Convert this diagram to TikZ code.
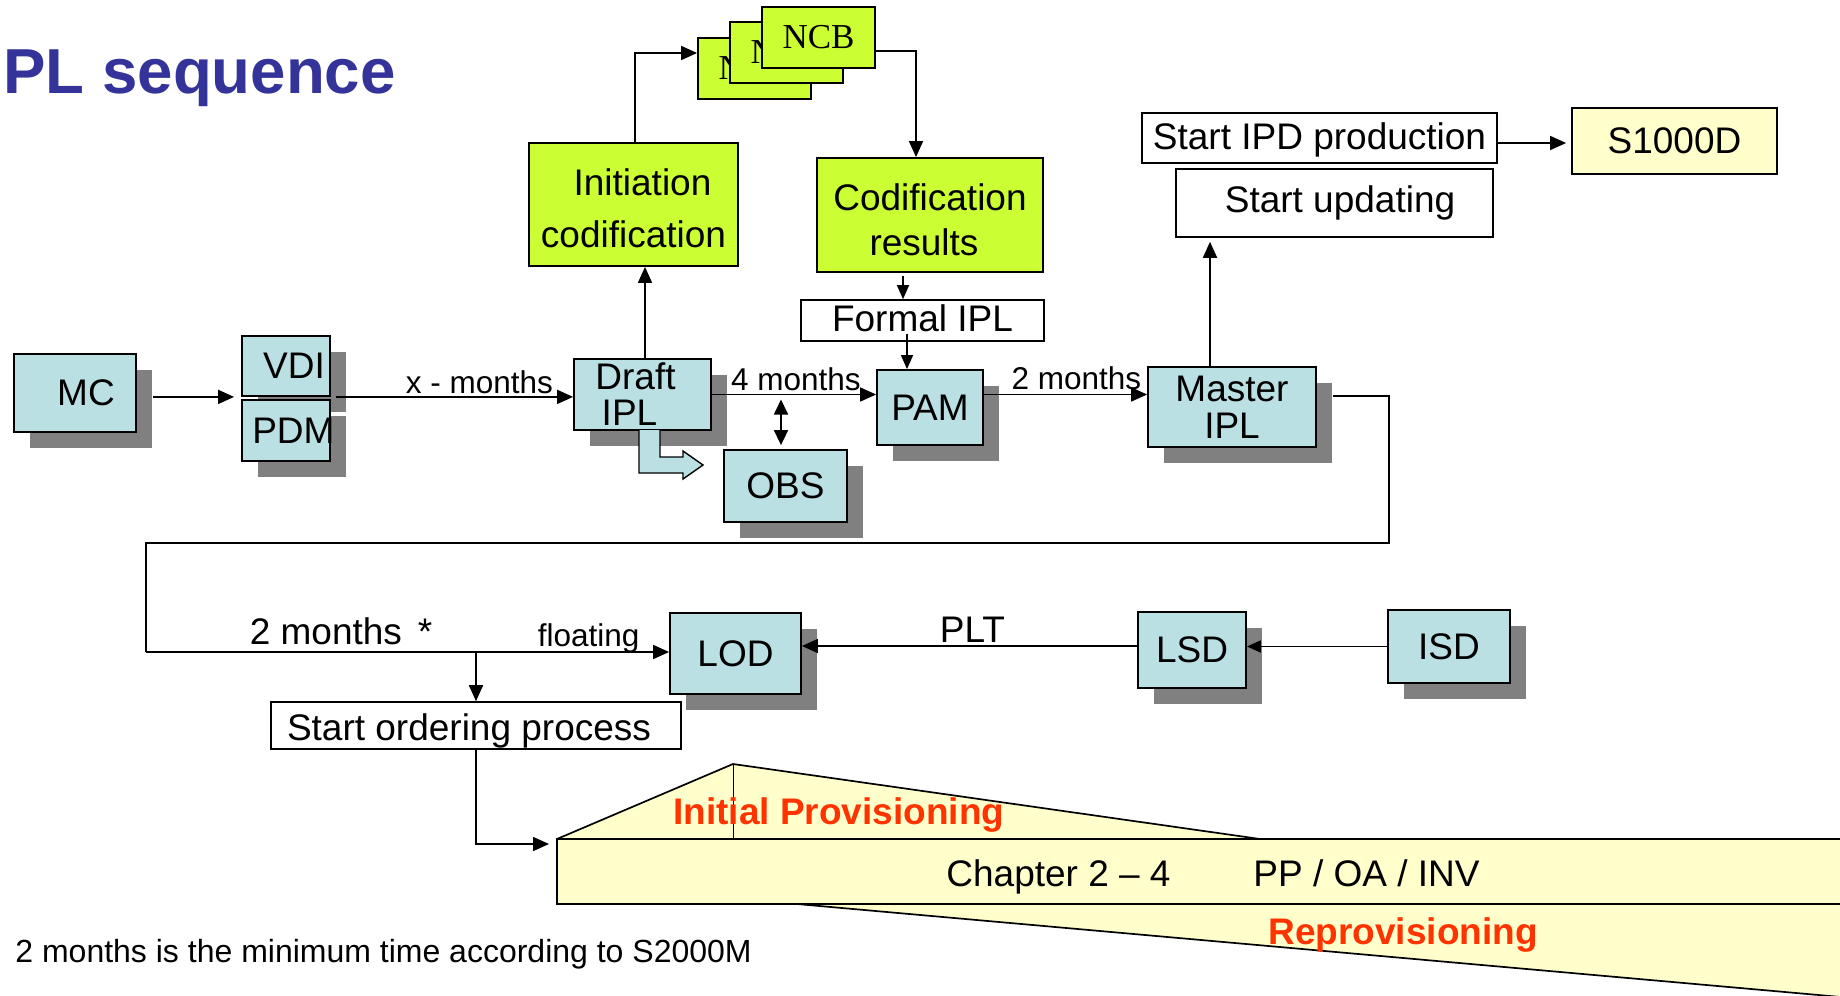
\documentclass[tikz,border=0pt]{standalone}
\usepackage{fontspec}
\setmainfont{Liberation Sans}
\newfontfamily\ncbfont{Liberation Serif}
\usetikzlibrary{arrows.meta,shadows,calc}
\definecolor{boxblue}{RGB}{187,224,227}
\definecolor{shadowgray}{RGB}{128,128,128}
\definecolor{limegreen}{RGB}{204,255,51}
\definecolor{paleyellow}{RGB}{255,255,204}
\definecolor{titleblue}{RGB}{51,51,153}
\definecolor{provred}{RGB}{255,51,0}
\begin{document}
\begin{tikzpicture}[x=0.5pt,y=-0.5pt,
  mybox/.style={draw=black, line width=0.9pt, inner sep=0pt, align=center, font=\fontsize{18.5}{18}\selectfont},
  bluebox/.style={mybox, fill=boxblue, general shadow={fill=shadowgray, shadow xshift=8pt, shadow yshift=-8pt}},
  limebox/.style={mybox, fill=limegreen},
  whitebox/.style={mybox, fill=white, line width=0.8pt},
  ncbbox/.style={mybox, fill=limegreen, font=\ncbfont\fontsize{17.5}{20}\selectfont, minimum width=56.5pt, minimum height=30.5pt},
  conn/.style={line width=0.85pt, -{Triangle[length=8pt,width=7pt]}},
  thinconn/.style={line width=0.7pt, -{Triangle[length=7pt,width=6pt]}},
  dbl/.style={line width=0.85pt, {Triangle[length=7.5pt,width=7pt]}-{Triangle[length=7.5pt,width=7pt]}},
  wire/.style={line width=0.8pt},
  bandline/.style={line width=0.85pt},
  lbl/.style={font=\fontsize{15.75}{18}\selectfont, anchor=base, inner sep=0pt},
  lblbig/.style={font=\fontsize{18.5}{20}\selectfont, anchor=base, inner sep=0pt},
]
\useasboundingbox (0,0) rectangle (1840,995);

% title
\node[anchor=base west, inner sep=0pt, font=\bfseries\fontsize{31.8}{36}\selectfont, text=titleblue] (title) at (3,94) {PL sequence};

% band
\coordinate (bandNW) at (557,839);
\begin{scope}
\clip (0,0) rectangle (1840,995);
\fill[paleyellow] (557,839) -- (733,764) -- (1260,839) -- cycle;
\fill[paleyellow] (557,839) rectangle (1850,904);
\fill[paleyellow] (797,904) -- (1850,997.8) -- (1850,904) -- cycle;
\draw[bandline] (557,839) -- (733,764) -- (1260,839);
\draw[line width=0.5pt] (733,764) -- (733,839);
\draw[bandline] (1850,839) -- (557,839) -- (557,904) -- (1850,904);
\draw[bandline] (797,904) -- (1850,997.8);
\end{scope}
\node[anchor=base west, inner sep=0pt, font=\bfseries\fontsize{18.5}{20}\selectfont, text=provred] (ip) at (673,824) {Initial Provisioning};
\node[anchor=base west, inner sep=0pt, font=\bfseries\fontsize{18.5}{20}\selectfont, text=provred] (rp) at (1268,944) {Reprovisioning};
\node[anchor=base west, inner sep=0pt, font=\fontsize{18.5}{20}\selectfont] (ch) at (946,886) {Chapter 2 -- 4};
\node[anchor=base west, inner sep=0pt, font=\fontsize{18.5}{20}\selectfont] (pp) at (1253,886) {PP / OA / INV};

% footnote
\node[anchor=base west, inner sep=0pt, font=\fontsize{16}{18}\selectfont] (note) at (15,962) {2 months is the minimum time according to S2000M};

% boxes
\node[bluebox, minimum width=61pt, minimum height=39pt] (MC) at (75,393) {\hspace*{11pt}MC};
\node[bluebox, minimum width=44pt, minimum height=30pt] (VDI) at (286,366) {\hspace*{8pt}VDI};
\node[bluebox, minimum width=44pt, minimum height=30.5pt] (PDM) at (286,430.5) {\makebox[0pt]{\hspace*{7.4pt}PDM}};
\node[bluebox, minimum width=68.5pt, minimum height=35.5pt, font=\fontsize{18.5}{18}\selectfont] (Draft) at (642.5,394.5) {Draft\hspace*{7pt}\\IPL\hspace*{13pt}};
\node[limebox, minimum width=104.5pt, minimum height=61.5pt, font=\fontsize{18.5}{26}\selectfont] (Init) at (633.5,204.5) {\rule{0pt}{17.5pt}\hspace*{9pt}Initiation\\codification};
\node[limebox, minimum width=113pt, minimum height=57pt, font=\fontsize{18.5}{22.5}\selectfont] (Cod) at (930,215) {\rule{0pt}{18.5pt}Codification\\results\hspace*{6pt}};
\node[whitebox, minimum width=121.5pt, minimum height=20.5pt] (Formal) at (922.5,320.5) {\raisebox{1pt}[\height][\depth]{Formal IPL}};
\node[bluebox, minimum width=53pt, minimum height=37.5pt] (PAM) at (930,407.5) {PAM};
\node[bluebox, minimum width=61.5pt, minimum height=36pt] (OBS) at (785.5,486) {OBS};
\node[bluebox, minimum width=84pt, minimum height=40pt, font=\fontsize{18.5}{18.5}\selectfont] (Master) at (1232,407) {Master\\IPL};
\node[whitebox, minimum width=158.5pt, minimum height=34pt] (Upd) at (1334.5,203) {\hspace*{5.5pt}Start updating};
\node[whitebox, minimum width=177.5pt, minimum height=25pt] (IPD) at (1319.5,138) {\raisebox{-1.2pt}[\height][\depth]{Start IPD production}};
\node[mybox, fill=paleyellow, minimum width=102.5pt, minimum height=33pt] (S1000D) at (1674.5,141) {S1000D};
\node[ncbbox] (ncb1) at (754.5,68.5) {NCB};
\node[ncbbox] (ncb2) at (786.5,52.5) {NCB};
\node[ncbbox] (ncb3) at (818.5,37.5) {NCB};
\node[whitebox, minimum width=205pt, minimum height=23.5pt] (Order) at (476,725.5) {\raisebox{-2.5pt}[\height][\depth]{Start ordering process}\hspace*{7pt}};
\node[bluebox, minimum width=65.5pt, minimum height=40.5pt] (LOD) at (735.5,653.5) {LOD};
\node[bluebox, minimum width=54pt, minimum height=38pt] (LSD) at (1192,650) {LSD};
\node[bluebox, minimum width=61pt, minimum height=36.5pt] (ISD) at (1449,646.5) {ISD};

% block arrow from Draft IPL
\draw[line width=0.7pt, fill=boxblue] (639,430) -- (639,473) -- (683,473) -- (683,479) -- (703,465) -- (683,451) -- (683,457) -- (660,457) -- (660,430);

% connectors
\draw[conn] ([xshift=8pt]MC.east |- VDI.south) -- ([xshift=-3.5pt]VDI.south west);
\draw[conn] ([xshift=2.5pt]VDI.south east) -- (VDI.south -| Draft.west) node[lbl, pos=0.605, yshift=1.5pt] {x - months};
\draw[conn] (Draft.east) -- (Draft.east -| PAM.west) node[lbl, pos=0.512, yshift=2pt] {4 months};
\draw[conn] (PAM.east |- Draft.east) -- (Draft.east -| Master.west) node[lbl, pos=0.567, yshift=2.5pt] {2 months};
\draw[dbl] ([xshift=-2.25pt,yshift=2pt]OBS.north) -- ([xshift=-2.25pt,yshift=-2.5pt]OBS.north |- Draft.east);
\draw[conn] ([xshift=1.25pt]Draft.north) -- ([xshift=1.25pt]Draft.north |- Init.south);
\draw[conn] ([xshift=0.75pt]Init.north) |- ([yshift=7.75pt]ncb1.west);
\draw[conn] ([yshift=-6.75pt]ncb3.east) -| ([xshift=-7pt]Cod.north);
\draw[thinconn] ([xshift=-13.5pt,yshift=-1.5pt]Cod.south) -- ([xshift=-13.5pt]Cod.south |- Formal.north);
\draw[thinconn] ([xshift=-7.75pt,yshift=4pt]Formal.south) -- ([xshift=-7.75pt]Formal.south |- PAM.north);
\draw[conn, shorten >=2pt] ([xshift=-11pt]Master.north) -- ([xshift=-11pt]Master.north |- Upd.south);
\draw[conn, shorten >=2.5pt] ([yshift=-2.5pt]IPD.east) -- ([yshift=-1pt]S1000D.west);

\coordinate (loopR) at (1389,543);
\coordinate (loopL) at (146,543);
\coordinate (loopB) at (146,652);
\draw[wire] ([xshift=8pt,yshift=5.5pt]Master.east) -| (loopR) -- (loopL) -- (loopB);
\draw[conn] (loopB) -- ([yshift=0.75pt]LOD.west)
  node[lblbig, pos=0.373, yshift=4pt] {2 months\hspace{8pt}*}
  node[lbl, pos=0.846, yshift=3pt] {floating};
\draw[conn] (loopB -| Order.north) -- (Order.north);
\draw[conn] (Order.south) |- ([xshift=-4pt,yshift=-2.5pt]bandNW);
\draw[conn] ([yshift=2pt]LSD.west) -- ([yshift=3.75pt]LOD.east) node[lblbig, pos=0.491, yshift=2pt] {PLT};
\draw[thinconn, line width=0.85pt] (ISD.west) -- (ISD.west -| LSD.east);
\end{tikzpicture}
\end{document}
